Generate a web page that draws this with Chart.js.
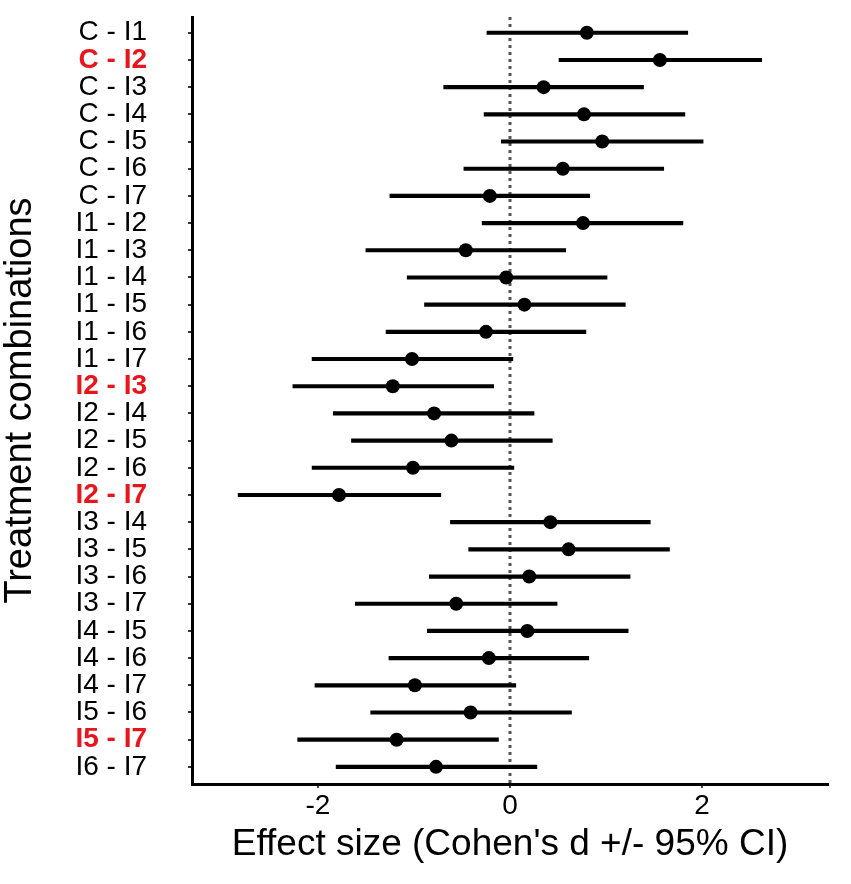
<!DOCTYPE html>
<html>
<head>
<meta charset="utf-8">
<script src="https://cdn.jsdelivr.net/npm/chart.js@4.4.0/dist/chart.umd.min.js"></script>
<style>
  body { margin: 0; background: #fff; }
  #wrap { width: 851px; height: 884px; position: relative; }
</style>
</head>
<body>
<div id="wrap"><canvas id="myChart"></canvas></div>
<script>
// treatment pairs, top to bottom
const combos = ['C - I1', 'C - I2', 'C - I3', 'C - I4', 'C - I5', 'C - I6', 'C - I7',
  'I1 - I2', 'I1 - I3', 'I1 - I4', 'I1 - I5', 'I1 - I6', 'I1 - I7',
  'I2 - I3', 'I2 - I4', 'I2 - I5', 'I2 - I6', 'I2 - I7',
  'I3 - I4', 'I3 - I5', 'I3 - I6', 'I3 - I7',
  'I4 - I5', 'I4 - I6', 'I4 - I7',
  'I5 - I6', 'I5 - I7', 'I6 - I7'];

// Cohen's d and 95% CI
const effect = [0.80, 1.56, 0.35, 0.77, 0.96, 0.55, -0.21,
  0.76, -0.46, -0.04, 0.15, -0.25, -1.02,
  -1.22, -0.79, -0.61, -1.01, -1.78,
  0.42, 0.61, 0.20, -0.56,
  0.18, -0.22, -0.99,
  -0.41, -1.18, -0.77];
const ciLow = [-0.24, 0.51, -0.69, -0.27, -0.09, -0.48, -1.25,
  -0.29, -1.50, -1.07, -0.89, -1.29, -2.06,
  -2.26, -1.84, -1.65, -2.06, -2.83,
  -0.62, -0.43, -0.84, -1.61,
  -0.86, -1.26, -2.03,
  -1.45, -2.21, -1.81];
const ciHigh = [1.85, 2.62, 1.39, 1.82, 2.01, 1.60, 0.83,
  1.80, 0.58, 1.01, 1.20, 0.79, 0.03,
  -0.17, 0.25, 0.44, 0.04, -0.72,
  1.46, 1.66, 1.25, 0.49,
  1.23, 0.82, 0.06,
  0.64, -0.12, 0.28];

// significant ones are shown red + bold
const significant = ['C - I2', 'I2 - I3', 'I2 - I7', 'I5 - I7'];

const xTicks = [-2, 0, 2];

const FONT = "'Liberation Sans', Arial, Helvetica, sans-serif";
const RED = '#e8161c';

const barData = combos.map((c, i) => ({ x: [ciLow[i], ciHigh[i]], y: i }));
const dotData = combos.map((c, i) => ({ x: effect[i], y: i }));

function isSig(c) {
  return !!(c && c.tick && significant.includes(combos[c.tick.value]));
}

// dotted line at zero
const zeroLine = {
  id: 'zeroLine',
  beforeDatasetsDraw(chart) {
    const ctx = chart.ctx;
    const a = chart.chartArea;
    const x = chart.scales.x.getPixelForValue(0);
    ctx.save();
    ctx.strokeStyle = '#555';
    ctx.lineWidth = 3;
    ctx.setLineDash([3, 4]);
    ctx.beginPath();
    ctx.moveTo(x, a.top);
    ctx.lineTo(x, a.bottom);
    ctx.stroke();
    ctx.restore();
  }
};

const ctx = document.getElementById('myChart').getContext('2d');

const myChart = new Chart(ctx, {
  type: 'bar',
  data: {
    datasets: [
      {
        type: 'scatter',
        label: 'effect',
        data: dotData,
        backgroundColor: '#000',
        borderColor: '#000',
        borderWidth: 0,
        pointRadius: 7,
        pointHoverRadius: 7,
        order: 0
      },
      {
        type: 'bar',
        label: 'ci',
        data: barData,
        backgroundColor: '#000',
        borderWidth: 0,
        barThickness: 3.5,
        grouped: false,
        order: 1
      }
    ]
  },
  plugins: [zeroLine],
  options: {
    indexAxis: 'y',
    responsive: true,
    maintainAspectRatio: false,
    animation: false,
    layout: { padding: { top: 17, right: 23, left: 0, bottom: 0 } },
    plugins: {
      legend: { display: false },
      tooltip: { enabled: false }
    },
    scales: {
      x: {
        type: 'linear',
        min: -3.31,
        max: 3.31,
        offset: false,
        afterFit: s => { s.height = 100; s.paddingLeft = 0; s.paddingRight = 0; },
        afterBuildTicks: s => { s.ticks = xTicks.map(v => ({ value: v })); },
        ticks: {
          color: '#000',
          padding: 4,
          font: { family: FONT, size: 28, lineHeight: 1 }
        },
        grid: { offset: false, drawOnChartArea: false, drawTicks: true, tickLength: 4, color: '#444', lineWidth: 2 },
        border: { display: true, color: '#000', width: 3 },
        title: {
          display: true,
          text: "Effect size (Cohen's d +/- 95% CI)",
          color: '#000',
          font: { family: FONT, size: 37, lineHeight: 1 },
          padding: { top: 0, bottom: 21 }
        }
      },
      y: {
        type: 'linear',
        reverse: true,
        min: -0.58,
        max: 27.63,
        offset: false,
        // fixed width, and no extra top/bottom room from the big tick padding
        afterFit: s => { s.width = 192; s.paddingTop = 0; s.paddingBottom = 0; },
        afterBuildTicks: s => { s.ticks = combos.map((c, i) => ({ value: i })); },
        ticks: {
          autoSkip: false,
          padding: 41,
          callback: v => combos[v],
          color: c => isSig(c) ? RED : '#000',
          font: c => ({
            family: FONT,
            size: 28,
            lineHeight: 1,
            weight: isSig(c) ? 'bold' : 'normal'
          })
        },
        grid: { offset: false, drawOnChartArea: false, drawTicks: true, tickLength: 4, color: '#333', lineWidth: 2 },
        border: { display: true, color: '#000', width: 3 },
        title: {
          display: true,
          text: 'Treatment combinations',
          color: '#000',
          font: { family: FONT, size: 38, lineHeight: 1 },
          padding: { top: 2, bottom: 0 }
        }
      }
    }
  }
});
</script>
</body>
</html>
